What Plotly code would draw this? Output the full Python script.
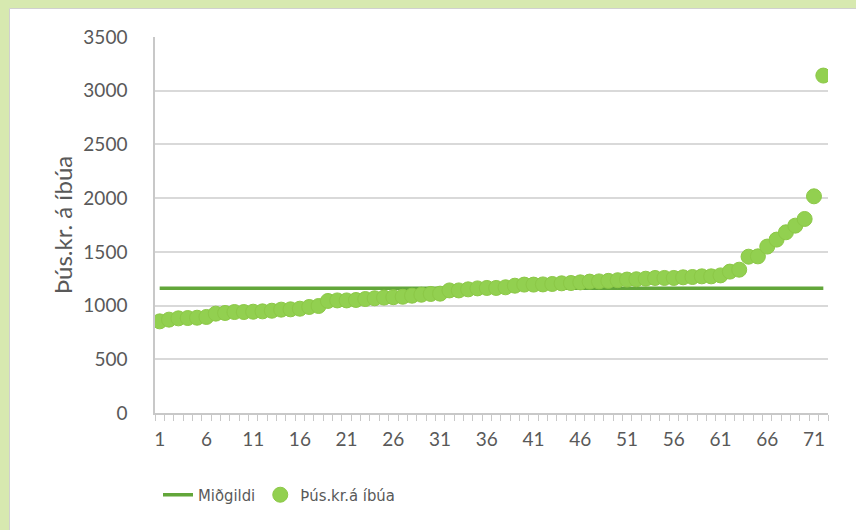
import plotly.graph_objects as go

# Data
categories = list(range(1, 73))
values = [853, 869, 881, 884, 887, 894, 925, 931, 940, 940,
          943, 946, 952, 962, 965, 971, 987, 996, 1043, 1048,
          1048, 1052, 1061, 1068, 1074, 1078, 1082, 1092, 1101, 1108,
          1111, 1141, 1141, 1151, 1160, 1164, 1164, 1170, 1185, 1195,
          1195, 1197, 1201, 1207, 1210, 1216, 1223, 1225, 1230, 1236,
          1242, 1245, 1250, 1257, 1257, 1257, 1263, 1266, 1272, 1272,
          1281, 1316, 1334, 1455, 1458, 1549, 1614, 1682, 1744, 1806,
          2017, 3141]
median_value = 1162
median_series = [median_value] * len(categories)
x_tick_vals = list(range(1, 73, 5))
x_tick_text = [str(v) for v in x_tick_vals]
y_tick_vals = [0, 500, 1000, 1500, 2000, 2500, 3000, 3500]

TICK_FONT = dict(family="Lato, Open Sans, sans-serif", size=19, color="#595959")
TITLE_FONT = dict(family="Lato, Open Sans, sans-serif", size=24, color="#595959")
LEGEND_FONT = dict(family="Liberation Sans Narrow, DejaVu Sans Condensed, Open Sans, sans-serif",
                   size=16.5, color="#595959")

fig = go.Figure()
fig.add_trace(go.Scatter(
    x=categories, y=median_series, mode="lines", name="Miðgildi",
    line=dict(color="#62a63a", width=3.5),
))
fig.add_trace(go.Scatter(
    x=categories, y=values, mode="markers", name="Þús.kr.á íbúa",
    marker=dict(size=15, color="#92d050", line=dict(color="#8cc847", width=1)),
))

L, R, T, B = 155, 28, 37, 117
W, H = 856, 530
pw = W - L - R
ph = H - T - B

def px_to_paper_x(px):
    return (px - L) / pw

def py_to_paper_y(py):
    return (H - B - py) / ph

# white panel with green frame
fig.add_shape(type="rect", xref="paper", yref="paper", layer="below",
              x0=px_to_paper_x(9.5), x1=px_to_paper_x(W + 5),
              y0=py_to_paper_y(H + 5), y1=py_to_paper_y(8.5),
              fillcolor="white", line=dict(color="#d0d0d0", width=1))

fig.update_layout(
    width=W, height=H,
    margin=dict(l=L, r=R, t=T, b=B, autoexpand=False),
    paper_bgcolor="#d7e9b0",
    plot_bgcolor="rgba(0,0,0,0)",
    showlegend=True,
    legend=dict(orientation="h", x=px_to_paper_x(158), xanchor="left",
                y=py_to_paper_y(495), yanchor="middle",
                font=LEGEND_FONT, bgcolor="rgba(0,0,0,0)",
                itemwidth=30, tracegroupgap=0),
    xaxis=dict(
        range=[0.5, 72.5], tickmode="array", tickvals=x_tick_vals, ticktext=x_tick_text,
        ticks="", showgrid=False, zeroline=False,
        showline=True, linecolor="#c8c8c8", linewidth=1.5,
        tickfont=TICK_FONT, ticklabelstandoff=8,
        minor=dict(ticks="outside", tick0=0.5, dtick=1, ticklen=6, tickcolor="#c8c8c8",
                   tickwidth=1, showgrid=False),
    ),
    yaxis=dict(
        range=[0, 3500], tickmode="array", tickvals=y_tick_vals,
        showgrid=True, gridcolor="#d9d9d9", gridwidth=1.5,
        zeroline=False, showline=True, linecolor="#c8c8c8", linewidth=1.5,
        ticks="", tickfont=TICK_FONT, ticklabelstandoff=22,
        title=dict(text="Þús.kr. á íbúa", font=TITLE_FONT, standoff=4),
    ),
)

fig.write_html("out.html", config={"displayModeBar": False},
               post_script="document.body.style.margin='0';document.body.style.overflow='hidden';")
